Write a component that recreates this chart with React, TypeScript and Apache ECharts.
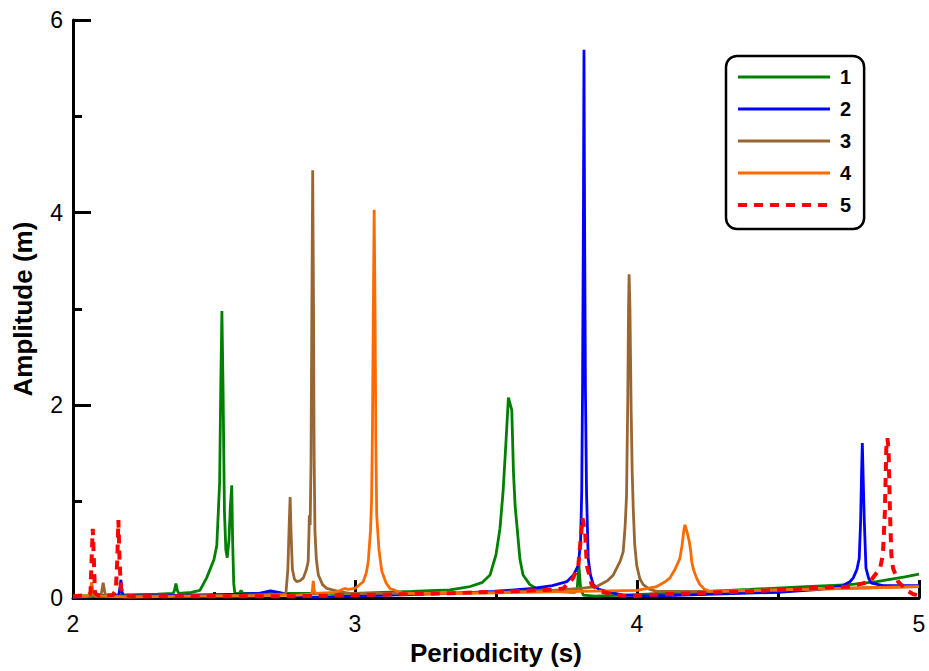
import React, { useEffect, useRef } from "react";
import * as echarts from "echarts";

const seriesNames = ["1", "2", "3", "4", "5"];
const seriesColors = ["#008000", "#0000ff", "#996633", "#ff6a00", "#ff0000"];
const xTicks = [2, 3, 4, 5];
const yTicks = [0, 2, 4, 6];

const s1: number[][] = [
  [2.0, 0.02], [2.15, 0.03], [2.3, 0.04], [2.355, 0.05], [2.36, 0.08], [2.365, 0.15], [2.37, 0.08], [2.375, 0.05],
  [2.42, 0.06], [2.45, 0.08], [2.474, 0.21], [2.5, 0.4], [2.51, 0.55], [2.52, 1.2], [2.524, 2.2], [2.528, 2.98],
  [2.532, 2.2], [2.537, 0.9], [2.542, 0.5], [2.547, 0.42], [2.553, 0.6], [2.558, 0.95], [2.563, 1.17], [2.566, 0.6],
  [2.57, 0.15], [2.574, 0.05], [2.59, 0.05], [2.596, 0.08], [2.602, 0.05], [2.8, 0.05], [3.0, 0.05], [3.2, 0.07],
  [3.337, 0.086], [3.408, 0.12], [3.45, 0.16], [3.479, 0.24], [3.5, 0.45], [3.514, 0.72], [3.525, 1.1], [3.535, 1.6],
  [3.544, 2.08], [3.556, 1.95], [3.562, 1.3], [3.568, 0.95], [3.573, 0.79], [3.585, 0.4], [3.596, 0.24], [3.62, 0.14],
  [3.644, 0.1], [3.7, 0.07], [3.78, 0.06], [3.788, 0.1], [3.794, 0.34], [3.8, 0.1], [3.81, 0.03], [3.85, 0.02],
  [3.95, 0.03], [4.1, 0.05], [4.247, 0.07], [4.4, 0.09], [4.6, 0.12], [4.755, 0.14], [4.85, 0.17], [4.95, 0.22], [5.0, 0.25],
];

const s2: number[][] = [
  [2.0, 0.01], [2.15, 0.02], [2.163, 0.04], [2.167, 0.12], [2.17, 0.19], [2.174, 0.06], [2.18, 0.02], [2.4, 0.03],
  [2.6, 0.04], [2.66, 0.05], [2.7, 0.075], [2.73, 0.06], [2.77, 0.03], [2.85, 0.01], [3.0, 0.02], [3.337, 0.05],
  [3.5, 0.07], [3.631, 0.1], [3.7, 0.13], [3.751, 0.17], [3.775, 0.24], [3.792, 0.34], [3.8, 0.6], [3.804, 1.1],
  [3.807, 2.2], [3.81, 4.0], [3.812, 5.69], [3.814, 4.0], [3.817, 2.2], [3.821, 1.1], [3.827, 0.41], [3.835, 0.24],
  [3.845, 0.14], [3.865, 0.09], [3.892, 0.07], [3.95, 0.03], [4.046, 0.02], [4.25, 0.04], [4.5, 0.06], [4.65, 0.09],
  [4.731, 0.13], [4.755, 0.17], [4.767, 0.21], [4.78, 0.3], [4.788, 0.41], [4.793, 0.8], [4.796, 1.25], [4.799, 1.61],
  [4.802, 1.25], [4.806, 0.8], [4.812, 0.31], [4.822, 0.2], [4.832, 0.155], [4.873, 0.13], [5.0, 0.13],
];

const s3: number[][] = [
  [2.0, 0.01], [2.09, 0.02], [2.1, 0.04], [2.107, 0.16], [2.114, 0.04], [2.125, 0.02], [2.4, 0.02], [2.6, 0.03],
  [2.74, 0.04], [2.755, 0.05], [2.762, 0.3], [2.767, 0.8], [2.77, 1.05], [2.773, 0.7], [2.778, 0.3], [2.785, 0.2],
  [2.793, 0.17], [2.805, 0.18], [2.817, 0.21], [2.828, 0.3], [2.834, 0.38], [2.837, 0.7], [2.838, 0.86], [2.841, 0.76],
  [2.844, 1.4], [2.847, 3.0], [2.85, 4.44], [2.853, 3.0], [2.855, 1.5], [2.858, 0.69], [2.863, 0.4], [2.87, 0.24],
  [2.885, 0.14], [2.9, 0.1], [2.94, 0.07], [2.982, 0.05], [3.2, 0.05], [3.5, 0.06], [3.7, 0.08], [3.8, 0.1],
  [3.857, 0.12], [3.895, 0.18], [3.916, 0.24], [3.94, 0.38], [3.951, 0.48], [3.958, 0.75], [3.963, 1.07], [3.967, 2.0],
  [3.97, 3.0], [3.972, 3.36], [3.975, 3.0], [3.979, 2.0], [3.983, 1.3], [3.987, 0.9], [3.992, 0.55], [3.999, 0.34],
  [4.01, 0.2], [4.022, 0.14], [4.045, 0.09], [4.07, 0.07], [4.3, 0.07], [4.6, 0.09], [4.85, 0.11], [5.0, 0.12],
];

const s4: number[][] = [
  [2.0, 0.02], [2.05, 0.02], [2.06, 0.05], [2.066, 0.165], [2.072, 0.05], [2.085, 0.02], [2.2, 0.01], [2.4, 0.02],
  [2.6, 0.02], [2.8, 0.03], [2.846, 0.04], [2.849, 0.08], [2.852, 0.18], [2.855, 0.08], [2.86, 0.05], [2.93, 0.06],
  [2.955, 0.09], [2.965, 0.1], [2.975, 0.09], [3.0, 0.1], [3.029, 0.17], [3.04, 0.26], [3.047, 0.38], [3.055, 0.7],
  [3.059, 1.03], [3.062, 1.8], [3.065, 3.0], [3.068, 4.03], [3.071, 3.0], [3.074, 1.6], [3.077, 0.86], [3.085, 0.5],
  [3.095, 0.28], [3.11, 0.16], [3.124, 0.1], [3.17, 0.05], [3.4, 0.05], [3.6, 0.06], [3.8, 0.07], [4.0, 0.08],
  [4.07, 0.12], [4.1, 0.17], [4.117, 0.21], [4.135, 0.3], [4.152, 0.41], [4.16, 0.55], [4.166, 0.7], [4.17, 0.76],
  [4.178, 0.68], [4.185, 0.59], [4.19, 0.5], [4.194, 0.38], [4.2, 0.3], [4.211, 0.21], [4.223, 0.14], [4.24, 0.09],
  [4.259, 0.07], [4.4, 0.08], [4.6, 0.09], [4.8, 0.105], [5.0, 0.12],
];

const s5: number[][] = [
  [2.0, 0.02], [2.05, 0.03], [2.062, 0.05], [2.066, 0.4], [2.07, 0.72], [2.074, 0.4], [2.078, 0.05], [2.09, 0.03],
  [2.14, 0.03], [2.152, 0.08], [2.157, 0.4], [2.161, 0.81], [2.165, 0.4], [2.17, 0.1], [2.178, 0.04], [2.2, 0.02],
  [2.5, 0.02], [2.8, 0.02], [3.0, 0.03], [3.337, 0.05], [3.55, 0.07], [3.69, 0.086], [3.739, 0.1], [3.774, 0.21],
  [3.792, 0.34], [3.8, 0.6], [3.807, 0.83], [3.812, 0.75], [3.816, 0.69], [3.822, 0.34], [3.839, 0.14], [3.869, 0.07],
  [3.93, 0.03], [3.986, 0.02], [4.05, 0.035], [4.4, 0.07], [4.6, 0.1], [4.755, 0.12], [4.826, 0.17], [4.862, 0.31],
  [4.872, 0.45], [4.879, 0.9], [4.884, 1.55], [4.888, 1.66], [4.892, 1.55], [4.897, 0.9], [4.902, 0.45], [4.908, 0.31],
  [4.926, 0.17], [4.962, 0.07], [4.98, 0.04], [5.0, 0.03],
];

const seriesData = [s1, s2, s3, s4, s5];
const FONT = "'Liberation Sans', Arial, Helvetica, sans-serif";

export default function App() {
  const ref = useRef<HTMLDivElement>(null);
  useEffect(() => {
    document.body.style.margin = "0";
    if (!ref.current) return;
    const chart = echarts.init(ref.current, null, { renderer: "svg" });
    const series = seriesData.map((d, i) => ({
      name: seriesNames[i],
      type: "line",
      data: d,
      symbol: "none",
      showSymbol: false,
      smooth: false,
      lineStyle: {
        color: seriesColors[i],
        width: i === 4 ? 4 : 2.8,
        type: i === 4 ? [9, 7] : "solid",
      },
      itemStyle: { color: seriesColors[i] },
      z: 2 + i,
    }));
    chart.setOption({
      animation: false,
      backgroundColor: "#ffffff",
      grid: { left: 73, right: 10, top: 20, bottom: 71, containLabel: false },
      legend: {
        orient: "vertical",
        left: 726,
        top: 56,
        padding: [11, 13, 14, 10],
        itemWidth: 92,
        itemHeight: 14,
        itemGap: 12,
        borderColor: "#000",
        borderWidth: 2.5,
        borderRadius: 11,
        backgroundColor: "#fff",
        itemStyle: { opacity: 0 },
        lineStyle: { width: 3 },
        data: seriesNames.map((n, i) => ({
          name: n,
          itemStyle: { opacity: 0 },
          lineStyle: { width: i === 4 ? 4 : 3 },
        })),
        textStyle: {
          fontFamily: FONT,
          fontWeight: "bold",
          fontSize: 20,
          lineHeight: 20,
          color: "#000",
          padding: [0, 0, 0, 5],
        },
      },
      xAxis: {
        type: "value",
        min: xTicks[0],
        max: xTicks[xTicks.length - 1],
        interval: 1,
        name: "Periodicity (s)",
        nameLocation: "middle",
        nameGap: 40,
        nameTextStyle: { fontFamily: FONT, fontWeight: "bold", fontSize: 26, color: "#000" },
        axisLine: { show: true, onZero: false, lineStyle: { color: "#000", width: 3 } },
        axisTick: { show: true, inside: true, length: 18, lineStyle: { color: "#000", width: 3 } },
        minorTick: { show: true, splitNumber: 2, length: 6, lineStyle: { color: "#000", width: 3 } },
        axisLabel: { fontFamily: FONT, fontSize: 23, color: "#000", margin: 14 },
        splitLine: { show: false },
      },
      yAxis: {
        type: "value",
        min: yTicks[0],
        max: yTicks[yTicks.length - 1],
        interval: 2,
        name: "Amplitude (m)",
        nameLocation: "middle",
        nameGap: 37,
        nameTextStyle: { fontFamily: FONT, fontWeight: "bold", fontSize: 26, color: "#000" },
        axisLine: { show: true, onZero: false, lineStyle: { color: "#000", width: 3 } },
        axisTick: { show: true, inside: true, length: 18, lineStyle: { color: "#000", width: 3 } },
        minorTick: { show: true, splitNumber: 2, length: 9, lineStyle: { color: "#000", width: 3 } },
        axisLabel: { fontFamily: FONT, fontSize: 23, color: "#000", margin: 10 },
        splitLine: { show: false },
      },
      series,
    });
    return () => chart.dispose();
  }, []);
  return <div ref={ref} style={{ width: 929, height: 671, position: "absolute", left: 0, top: 0 }} />;
}
